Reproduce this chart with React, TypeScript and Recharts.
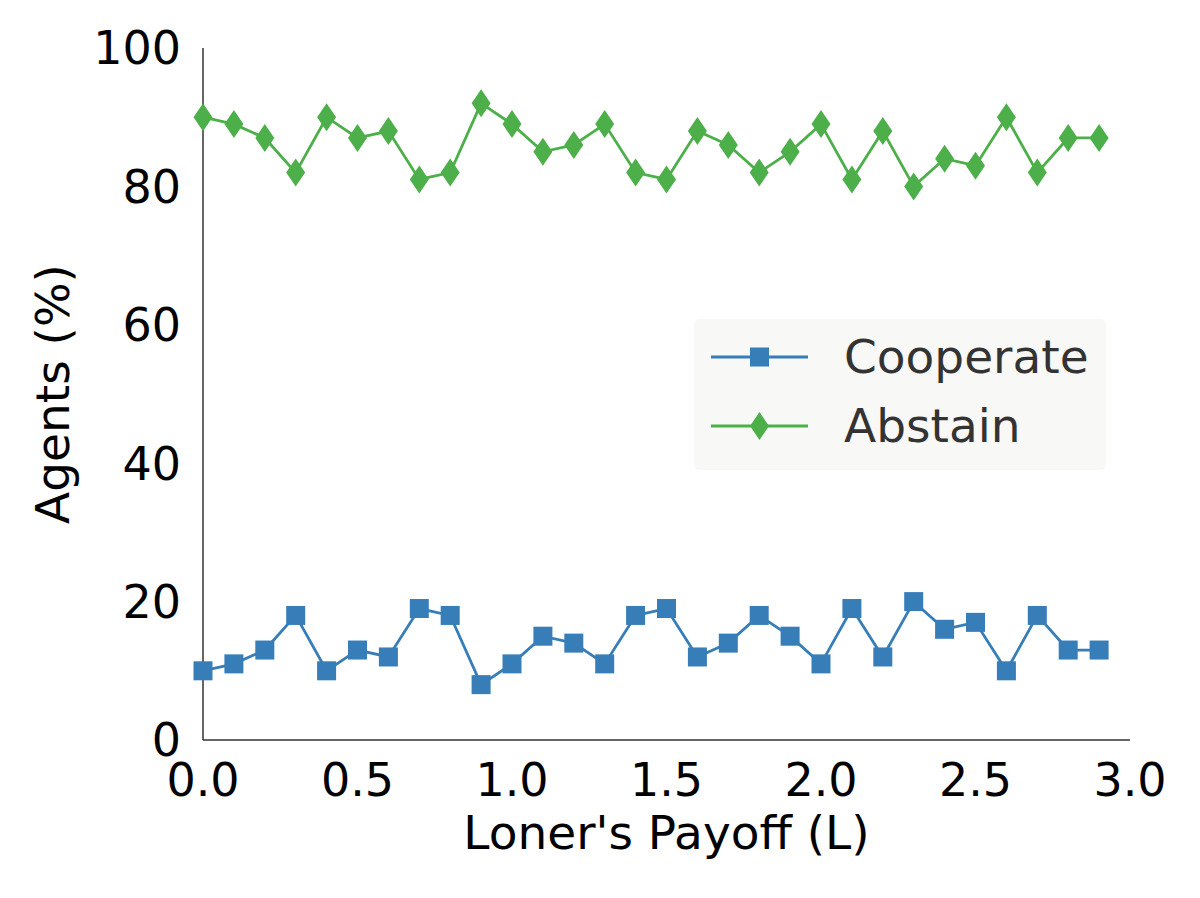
import React from 'react';
import { LineChart, Line, XAxis, YAxis, Label } from 'recharts';

// Loner's payoff values (x)
const payoffs = [
    0.0, 0.1, 0.2, 0.3, 0.4, 0.5, 0.6, 0.7, 0.8, 0.9,
    1.0, 1.1, 1.2, 1.3, 1.4, 1.5, 1.6, 1.7, 1.8, 1.9,
    2.0, 2.1, 2.2, 2.3, 2.4, 2.5, 2.6, 2.7, 2.8, 2.9,
];
const cooperate = [10, 11, 13, 18, 10, 13, 12, 19, 18, 8, 11, 15, 14, 11, 18, 19, 12, 14, 18, 15, 11, 19, 12, 20, 16, 17, 10, 18, 13, 13];
const abstain = [90, 89, 87, 82, 90, 87, 88, 81, 82, 92, 89, 85, 86, 89, 82, 81, 88, 86, 82, 85, 89, 81, 88, 80, 84, 83, 90, 82, 87, 87];
const xTicks = [0, 0.5, 1.0, 1.5, 2.0, 2.5, 3.0];
const yTicks = [0, 20, 40, 60, 80, 100];

const BLUE = '#377eb8';
const GREEN = '#4daf4a';
const FONT = '"DejaVu Sans", sans-serif';

const data = payoffs.map((x, i) => ({ x, cooperate: cooperate[i], abstain: abstain[i] }));

const SquareDot = (props: any) => {
    const { cx, cy } = props;
    if (cx == null || cy == null) return null;
    return <rect x={cx - 9.5} y={cy - 9.5} width={19} height={19} fill={BLUE} />;
};

const DiamondDot = (props: any) => {
    const { cx, cy } = props;
    if (cx == null || cy == null) return null;
    return <path d={`M${cx},${cy - 14} L${cx + 9.5},${cy} L${cx},${cy + 14} L${cx - 9.5},${cy} Z`} fill={GREEN} />;
};

// legend drawn as an overlay so it doesn't steal space from the plot
const LegendBox = () => (
    <div style={{
        position: 'absolute', left: 694, top: 319, width: 412, height: 151,
        background: '#f8f8f6', borderRadius: 6,
    }}>
        <svg width={412} height={151} style={{ position: 'absolute', left: 0, top: 0 }}>
            <line x1={17} x2={114} y1={38} y2={38} stroke={BLUE} strokeWidth={2.8} />
            <rect x={56} y={28.5} width={19} height={19} fill={BLUE} />
            <line x1={17} x2={114} y1={107} y2={107} stroke={GREEN} strokeWidth={2.8} />
            <path d="M65.5,93 L75,107 L65.5,121 L56,107 Z" fill={GREEN} />
            <text x={150} y={54} fontSize={47} fill="#333" fontFamily={FONT}>Cooperate</text>
            <text x={150} y={123} fontSize={47} fill="#333" fontFamily={FONT}>Abstain</text>
        </svg>
    </div>
);

export default function App() {
    return (
        <div style={{ position: 'absolute', left: 0, top: 0, width: 1200, height: 898, background: '#fff' }}>
            <LineChart width={1200} height={898} data={data} margin={{ top: 48, right: 70, bottom: 0, left: 0 }}>
                <XAxis
                    dataKey="x" type="number" domain={[0, 3]} ticks={xTicks}
                    tickFormatter={(v: number) => v.toFixed(1)}
                    tickLine={false} tickMargin={17} height={158}
                    axisLine={{ stroke: '#333', strokeWidth: 1.5 }}
                    tick={{ fontSize: 46, fill: '#000', fontFamily: FONT }}
                >
                    <Label value="Loner's Payoff (L)" position="insideTop" offset={76}
                        style={{ fontSize: 47, fill: '#000', fontFamily: FONT }} />
                </XAxis>
                <YAxis
                    type="number" domain={[0, 100]} ticks={yTicks} width={203}
                    tickLine={false} tickMargin={16}
                    axisLine={{ stroke: '#333', strokeWidth: 1.5 }}
                    tick={{ fontSize: 46, fill: '#000', fontFamily: FONT }}
                >
                    <Label value="Agents (%)" angle={-90} position="insideLeft" offset={52}
                        style={{ fontSize: 47, fill: '#000', fontFamily: FONT, textAnchor: 'middle' }} />
                </YAxis>
                <Line dataKey="cooperate" name="Cooperate" stroke={BLUE} strokeWidth={2.8}
                    dot={<SquareDot />} activeDot={false} isAnimationActive={false} />
                <Line dataKey="abstain" name="Abstain" stroke={GREEN} strokeWidth={2.8}
                    dot={<DiamondDot />} activeDot={false} isAnimationActive={false} />
            </LineChart>
            <LegendBox />
        </div>
    );
}
